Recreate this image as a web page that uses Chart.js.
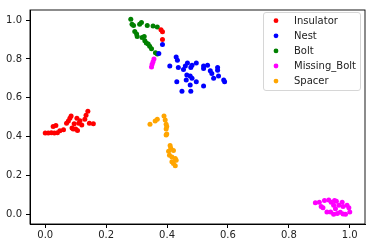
<!DOCTYPE html>
<html>
<head>
<meta charset="utf-8">
<script src="https://cdn.jsdelivr.net/npm/chart.js@4"></script>
<style>
  html, body { margin: 0; padding: 0; background: #fff; }
  #wrap { width: 372px; height: 248px; }
</style>
</head>
<body>
<div id="wrap"><canvas id="scatterChart" width="372" height="248"></canvas></div>
<script>
    var classNames = ["Insulator", "Nest", "Bolt", "Missing_Bolt", "Spacer"];
    var classColors = ["#ff0000", "#0000ff", "#008000", "#ff00ff", "#ffa500"];
    var axisTicks = [0.0, 0.2, 0.4, 0.6, 0.8, 1.0];

    var insulatorPts = [
        [0.0, 0.418], [0.01, 0.418], [0.02, 0.42], [0.03, 0.418], [0.026, 0.452], [0.035, 0.457],
        [0.04, 0.42], [0.048, 0.43], [0.06, 0.435], [0.07, 0.469], [0.076, 0.48], [0.081, 0.494],
        [0.085, 0.506], [0.088, 0.444], [0.095, 0.466], [0.092, 0.439], [0.10, 0.439], [0.104, 0.494],
        [0.11, 0.469], [0.114, 0.482], [0.12, 0.46], [0.106, 0.432], [0.13, 0.49], [0.134, 0.51],
        [0.14, 0.53], [0.145, 0.469], [0.158, 0.466],
        [0.38, 0.95], [0.385, 0.94], [0.385, 0.90]
    ];
    var nestPts = [
        [0.385, 0.874], [0.373, 0.828], [0.409, 0.764], [0.43, 0.81], [0.434, 0.793], [0.437, 0.756],
        [0.454, 0.745], [0.46, 0.763], [0.467, 0.779], [0.482, 0.768], [0.496, 0.779], [0.478, 0.756],
        [0.52, 0.763], [0.533, 0.768], [0.52, 0.751], [0.542, 0.739], [0.547, 0.725], [0.566, 0.756],
        [0.566, 0.742], [0.553, 0.70], [0.569, 0.712], [0.586, 0.692], [0.589, 0.682], [0.465, 0.717],
        [0.476, 0.712], [0.463, 0.692], [0.482, 0.70], [0.496, 0.683], [0.432, 0.683], [0.476, 0.666],
        [0.52, 0.661], [0.449, 0.633], [0.478, 0.633]
    ];
    var boltPts = [
        [0.281, 1.004], [0.285, 0.978], [0.29, 0.972], [0.31, 0.978], [0.316, 0.987], [0.335, 0.972],
        [0.354, 0.97], [0.368, 0.965], [0.294, 0.941], [0.30, 0.928], [0.302, 0.916], [0.318, 0.911],
        [0.325, 0.916], [0.332, 0.882], [0.338, 0.877], [0.343, 0.865], [0.349, 0.853], [0.362, 0.832],
        [0.327, 0.894], [0.368, 0.826]
    ];
    var missingBoltPts = [
        [0.357, 0.80], [0.354, 0.786], [0.351, 0.773], [0.349, 0.759],
        [0.887, 0.059], [0.90, 0.062], [0.906, 0.04], [0.912, 0.034], [0.917, 0.071], [0.931, 0.074],
        [0.939, 0.062], [0.925, 0.012], [0.937, 0.012], [0.95, 0.071], [0.956, 0.067], [0.947, 0.046],
        [0.953, 0.029], [0.959, 0.004], [0.947, 0.0], [0.975, 0.062], [0.978, 0.04], [0.969, 0.011],
        [0.978, 0.002], [0.986, 0.0], [0.991, 0.046], [0.997, 0.034], [1.0, 0.012], [0.964, 0.046]
    ];
    var spacerPts = [
        [0.344, 0.464], [0.361, 0.48], [0.368, 0.489], [0.39, 0.506], [0.394, 0.486], [0.397, 0.464],
        [0.399, 0.452], [0.397, 0.439], [0.399, 0.413], [0.397, 0.408], [0.41, 0.354], [0.412, 0.341],
        [0.405, 0.324], [0.421, 0.329], [0.408, 0.304], [0.416, 0.295], [0.427, 0.287], [0.416, 0.27],
        [0.421, 0.262], [0.43, 0.278], [0.427, 0.25]
    ];
    var classPts = [insulatorPts, nestPts, boltPts, missingBoltPts, spacerPts];

    var tickFont = { family: "'DejaVu Sans'", size: 10 };

    // frame + legend box drawn like matplotlib
    var mplFrame = {
        id: 'mplFrame',
        afterDraw: function (chart) {
            var ctx = chart.ctx, a = chart.chartArea;
            ctx.save();
            ctx.strokeStyle = '#000';
            ctx.lineWidth = 0.9;
            ctx.strokeRect(a.left, a.top, a.right - a.left, a.bottom - a.top);

            var bx = 263, by = 12, bw = 97, bh = 78;
            ctx.beginPath();
            ctx.roundRect(bx + 0.5, by + 0.5, bw, bh, 2.5);
            ctx.fillStyle = 'rgba(255,255,255,0.8)';
            ctx.fill();
            ctx.strokeStyle = '#d6d6d6';
            ctx.lineWidth = 1;
            ctx.stroke();

            ctx.font = "10px 'DejaVu Sans'";
            ctx.textBaseline = 'middle';
            chart.data.datasets.forEach(function (ds, i) {
                var cy = 20.7 + i * 15.1;
                ctx.beginPath();
                ctx.arc(276, cy, 2.4, 0, Math.PI * 2);
                ctx.fillStyle = ds.backgroundColor;
                ctx.fill();
                ctx.fillStyle = '#222';
                ctx.textAlign = 'left';
                ctx.fillText(ds.label, 294, cy + 0.5);
            });
            ctx.restore();
        }
    };

    var ScatterCanvas = document.getElementById("scatterChart");
    var ScatterChart = new Chart(ScatterCanvas, {
        type: 'scatter',
        data: {
            datasets: classNames.map(function (name, i) {
                return {
                    label: name,
                    data: classPts[i].map(function (p) { return { x: p[0], y: p[1] }; }),
                    backgroundColor: classColors[i],
                    borderColor: classColors[i],
                    borderWidth: 0,
                    pointRadius: 2.5,
                    pointHoverRadius: 2.5
                };
            })
        },
        options: {
            responsive: false,
            animation: false,
            devicePixelRatio: 1,
            layout: { padding: { left: 0, right: 7, top: 6, bottom: 0 } },
            plugins: {
                legend: { display: false },
                tooltip: { enabled: false }
            },
            scales: {
                x: {
                    type: 'linear',
                    min: -0.05,
                    max: 1.05,
                    afterBuildTicks: function (scale) {
                        scale.ticks = axisTicks.map(function (v) { return { value: v }; });
                    },
                    afterFit: function (scale) { scale.height = 24; },
                    grid: { display: true, drawOnChartArea: false, drawTicks: true, tickLength: 4, color: '#000' },
                    border: { display: true, color: '#000' },
                    ticks: {
                        padding: 1,
                        maxRotation: 0,
                        autoSkip: false,
                        color: '#222',
                        font: tickFont,
                        callback: function (v) { return v.toFixed(1); }
                    }
                },
                y: {
                    type: 'linear',
                    min: -0.05,
                    max: 1.052,
                    afterBuildTicks: function (scale) {
                        scale.ticks = axisTicks.map(function (v) { return { value: v }; });
                    },
                    afterFit: function (scale) { scale.width = 30; },
                    grid: { display: true, drawOnChartArea: false, drawTicks: true, tickLength: 4, color: '#000' },
                    border: { display: true, color: '#000' },
                    ticks: {
                        padding: 4,
                        autoSkip: false,
                        color: '#222',
                        font: tickFont,
                        callback: function (v) { return v.toFixed(1); }
                    }
                }
            }
        },
        plugins: [mplFrame]
    });
</script>
</body>
</html>
